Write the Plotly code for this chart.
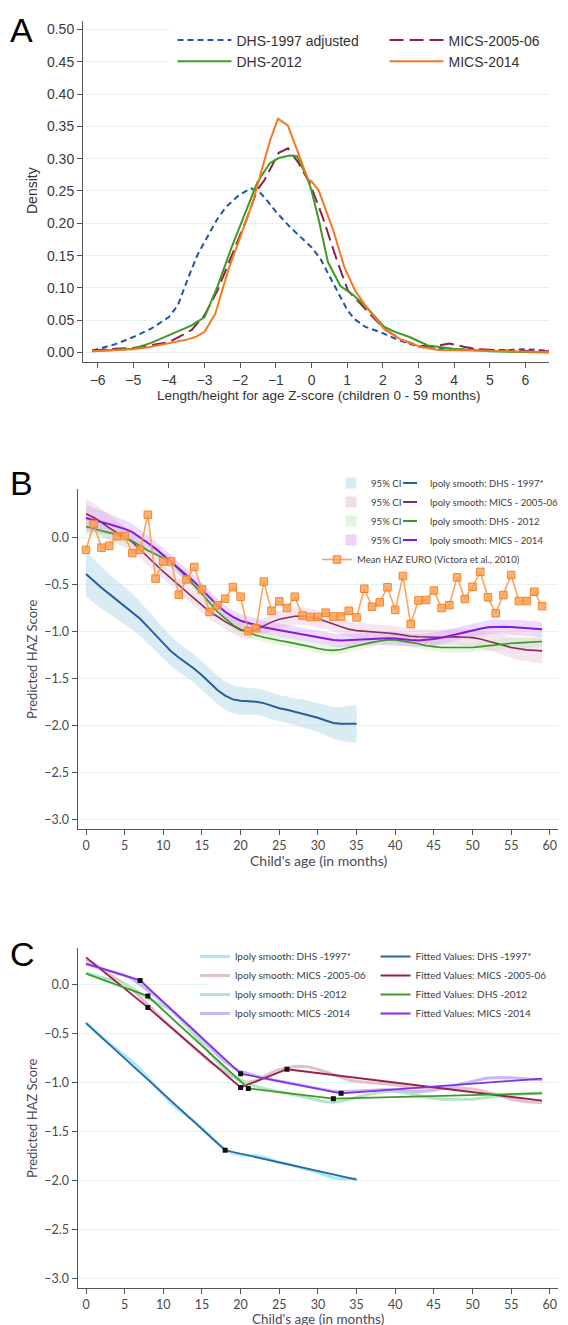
import plotly.graph_objects as go

# The page body adds an 8 px margin; the figure is made a bit wider than the
# window so that legends near the right edge are not pushed back inside.
W, H = 620, 1325
OFF = 8

# ---------------- Panel A : density of HAZ ----------------
A_DHS1997_X = [-6.15, -5.5, -5.0, -4.5, -4.0, -3.75, -3.45, -3.2, -2.95, -2.65, -2.4, -2.05, -1.7, -1.45,
               -1.2, -1.0, -0.6, -0.3, 0.0, 0.25, 0.5, 0.8, 1.0, 1.2, 1.5, 2.0, 2.5, 3.0, 3.5, 4.0, 4.5,
               5.0, 5.5, 6.0, 6.66]
A_DHS1997_Y = [0.003, 0.013, 0.024, 0.037, 0.055, 0.073, 0.117, 0.151, 0.176, 0.206, 0.225, 0.243, 0.254,
               0.248, 0.232, 0.218, 0.194, 0.178, 0.163, 0.145, 0.118, 0.086, 0.066, 0.052, 0.040, 0.030,
               0.018, 0.009, 0.006, 0.005, 0.004, 0.004, 0.004, 0.005, 0.003]

A_MICS2005_X = [-6.15, -5.5, -5.0, -4.0, -3.36, -3.0, -2.64, -2.24, -1.83, -1.53, -1.32, -0.92, -0.66,
                -0.36, -0.05, 0.31, 0.71, 1.02, 1.42, 2.03, 2.54, 3.05, 3.46, 3.87, 4.27, 4.68, 5.49, 6.66]
A_MICS2005_Y = [0.003, 0.006, 0.007, 0.016, 0.035, 0.058, 0.096, 0.150, 0.205, 0.251, 0.267, 0.309, 0.316,
                0.293, 0.262, 0.210, 0.143, 0.096, 0.073, 0.037, 0.019, 0.010, 0.010, 0.014, 0.009, 0.005,
                0.003, 0.002]

A_DHS2012_X = [-6.15, -5.5, -5.0, -4.5, -4.0, -3.56, -3.36, -3.0, -2.64, -2.24, -1.83, -1.53, -1.42, -1.17,
               -0.92, -0.61, -0.41, -0.1, 0.0, 0.2, 0.46, 0.81, 1.17, 1.53, 2.03, 2.34, 2.75, 3.26, 3.97,
               5.0, 6.66]
A_DHS2012_Y = [0.002, 0.004, 0.006, 0.015, 0.027, 0.037, 0.042, 0.055, 0.102, 0.163, 0.220, 0.262, 0.272,
               0.293, 0.301, 0.305, 0.304, 0.268, 0.250, 0.206, 0.140, 0.103, 0.089, 0.071, 0.040, 0.032,
               0.024, 0.011, 0.006, 0.002, 0.000]

A_MICS2014_X = [-6.15, -5.0, -4.5, -4.0, -3.5, -3.26, -3.0, -2.7, -2.34, -2.03, -1.63, -1.42, -1.17, -0.94,
                -0.66, -0.41, -0.1, 0.0, 0.2, 0.61, 0.92, 1.22, 1.53, 2.03, 2.54, 3.05, 3.56, 4.5, 5.5, 6.66]
A_MICS2014_Y = [0.002, 0.005, 0.009, 0.014, 0.020, 0.024, 0.032, 0.060, 0.127, 0.174, 0.236, 0.278, 0.327,
                0.362, 0.351, 0.314, 0.268, 0.265, 0.251, 0.189, 0.132, 0.096, 0.071, 0.037, 0.019, 0.009,
                0.004, 0.003, 0.002, 0.001]

A_XTICKS = [-6, -5, -4, -3, -2, -1, 0, 1, 2, 3, 4, 5, 6]
A_YTICKS = [0.00, 0.05, 0.10, 0.15, 0.20, 0.25, 0.30, 0.35, 0.40, 0.45, 0.50]

# ---------------- Panel B : lpoly smooths by age ----------------
AGE_1997 = list(range(0, 36))
AGE_ALL = list(range(0, 60))

LP_DHS1997 = [-0.39, -0.465, -0.535, -0.60, -0.665, -0.725, -0.79, -0.865, -0.95, -1.04, -1.13, -1.21,
              -1.275, -1.335, -1.395, -1.465, -1.545, -1.62, -1.68, -1.72, -1.735, -1.74, -1.745, -1.76,
              -1.79, -1.815, -1.83, -1.85, -1.87, -1.89, -1.915, -1.945, -1.97, -1.98, -1.98, -1.98]
LP_MICS2005 = [0.25, 0.21, 0.16, 0.10, 0.05, 0.005, -0.05, -0.13, -0.21, -0.29, -0.365, -0.435, -0.505,
               -0.575, -0.645, -0.72, -0.79, -0.84, -0.895, -0.94, -0.985, -1.0, -0.98, -0.94, -0.90, -0.87,
               -0.85, -0.838, -0.835, -0.845, -0.865, -0.89, -0.92, -0.95, -0.975, -0.99, -0.995, -1.0,
               -1.005, -1.015, -1.025, -1.04, -1.05, -1.055, -1.06, -1.06, -1.06, -1.055, -1.055, -1.06,
               -1.065, -1.08, -1.10, -1.12, -1.145, -1.17, -1.185, -1.195, -1.20, -1.205]
LP_DHS2012 = [0.115, 0.09, 0.07, 0.05, 0.03, 0.0, -0.04, -0.09, -0.14, -0.18, -0.22, -0.26, -0.34, -0.42,
              -0.51, -0.60, -0.69, -0.79, -0.86, -0.93, -0.975, -1.01, -1.04, -1.06, -1.08, -1.095, -1.11,
              -1.125, -1.14, -1.16, -1.18, -1.195, -1.20, -1.19, -1.17, -1.15, -1.13, -1.115, -1.10, -1.09,
              -1.09, -1.10, -1.115, -1.13, -1.15, -1.16, -1.17, -1.17, -1.17, -1.172, -1.17, -1.16, -1.15,
              -1.14, -1.13, -1.125, -1.12, -1.115, -1.11, -1.105]
LP_MICS2014 = [0.205, 0.185, 0.16, 0.14, 0.115, 0.09, 0.055, 0.0, -0.06, -0.12, -0.19, -0.26, -0.33, -0.40,
               -0.47, -0.555, -0.64, -0.72, -0.79, -0.845, -0.885, -0.91, -0.935, -0.955, -0.97, -0.985,
               -1.0, -1.015, -1.03, -1.045, -1.06, -1.075, -1.09, -1.095, -1.09, -1.085, -1.08, -1.075,
               -1.07, -1.07, -1.075, -1.085, -1.09, -1.095, -1.09, -1.08, -1.065, -1.045, -1.025, -1.005,
               -0.985, -0.97, -0.955, -0.95, -0.95, -0.952, -0.958, -0.965, -0.97, -0.975]

# half-widths of the 95% confidence bands
CI_DHS1997 = [0.24, 0.23, 0.22, 0.21, 0.20, 0.20, 0.19, 0.18, 0.17, 0.17, 0.16, 0.16, 0.15, 0.15, 0.15,
              0.15, 0.15, 0.15, 0.15, 0.15, 0.15, 0.14, 0.14, 0.14, 0.14, 0.14, 0.14, 0.14, 0.15, 0.15,
              0.15, 0.16, 0.17, 0.18, 0.19, 0.20]
CI_MICS2005 = [0.16, 0.15, 0.14, 0.13, 0.12, 0.11, 0.10, 0.09, 0.09, 0.08, 0.08, 0.08, 0.08, 0.08, 0.08,
               0.08, 0.08, 0.08, 0.08, 0.08, 0.08, 0.08, 0.08, 0.08, 0.09, 0.09, 0.09, 0.09, 0.09, 0.09,
               0.09, 0.08, 0.08, 0.08, 0.08, 0.08, 0.08, 0.08, 0.08, 0.08, 0.08, 0.08, 0.08, 0.08, 0.08,
               0.08, 0.08, 0.08, 0.08, 0.09, 0.09, 0.09, 0.10, 0.10, 0.11, 0.11, 0.12, 0.12, 0.13, 0.13]
CI_DHS2012 = [0.09, 0.085, 0.08, 0.075, 0.07, 0.065, 0.06, 0.06, 0.055, 0.055, 0.05, 0.05, 0.05, 0.05,
              0.05, 0.05, 0.05, 0.05, 0.05, 0.05, 0.05, 0.05, 0.05, 0.05, 0.05, 0.05, 0.05, 0.05, 0.05,
              0.05, 0.05, 0.05, 0.05, 0.05, 0.05, 0.05, 0.05, 0.05, 0.05, 0.05, 0.05, 0.05, 0.05, 0.05,
              0.05, 0.05, 0.05, 0.05, 0.05, 0.05, 0.05, 0.05, 0.055, 0.055, 0.055, 0.06, 0.06, 0.06,
              0.06, 0.06]
CI_MICS2014 = [0.14, 0.13, 0.12, 0.11, 0.10, 0.095, 0.09, 0.085, 0.08, 0.075, 0.07, 0.07, 0.07, 0.07,
               0.07, 0.07, 0.07, 0.07, 0.07, 0.07, 0.07, 0.07, 0.07, 0.07, 0.07, 0.07, 0.07, 0.07, 0.07,
               0.07, 0.07, 0.07, 0.07, 0.07, 0.07, 0.07, 0.07, 0.07, 0.07, 0.07, 0.07, 0.07, 0.07, 0.07,
               0.07, 0.07, 0.07, 0.07, 0.07, 0.07, 0.07, 0.075, 0.075, 0.075, 0.075, 0.08, 0.08, 0.08,
               0.08, 0.08]

EURO_HAZ = [-0.134, 0.141, -0.11, -0.09, 0.012, 0.014, -0.167, -0.132, 0.24, -0.438, -0.256, -0.256,
            -0.609, -0.447, -0.315, -0.553, -0.791, -0.721, -0.651, -0.528, -0.63, -0.995, -0.965, -0.47,
            -0.78, -0.68, -0.75, -0.63, -0.83, -0.845, -0.845, -0.80, -0.84, -0.84, -0.78, -0.85, -0.546,
            -0.736, -0.69, -0.53, -0.77, -0.41, -0.92, -0.67, -0.665, -0.565, -0.75, -0.72, -0.425,
            -0.655, -0.525, -0.366, -0.637, -0.806, -0.613, -0.40, -0.676, -0.676, -0.577, -0.73]

BC_XTICKS = [0, 5, 10, 15, 20, 25, 30, 35, 40, 45, 50, 55, 60]
BC_YTICKS = [0.0, -0.5, -1.0, -1.5, -2.0, -2.5, -3.0]

# ---------------- Panel C : piecewise fitted values ----------------
FIT_DHS1997_X = [0, 18, 35]
FIT_DHS1997_Y = [-0.395, -1.69, -1.99]
FIT_MICS2005_X = [0, 8, 20, 26, 59]
FIT_MICS2005_Y = [0.275, -0.235, -1.05, -0.865, -1.185]
FIT_DHS2012_X = [0, 8, 21, 32, 59]
FIT_DHS2012_Y = [0.11, -0.12, -1.06, -1.165, -1.11]
FIT_MICS2014_X = [0, 7, 20, 33, 59]
FIT_MICS2014_Y = [0.21, 0.04, -0.91, -1.11, -0.96]


# ---------------- geometry (page pixels -> paper fractions) ----------------
def fx(p):
    return (p - OFF) / W


def fy(p):
    return 1 - (p - OFF) / H


A_BOX = (83, 549, 21, 362)      # left, right, top, bottom (page px)
B_BOX = (77.5, 558, 489.3, 828.7)
C_BOX = (77.5, 558, 948.3, 1288.3)

FONT_A = "Liberation Sans, Arial, sans-serif"
FONT_BC = "Lato, Open Sans, sans-serif"
GRID = "#e4f2f2"
AXC = "#555555"

fig = go.Figure()

# ---- Panel A traces ----
A_SERIES = [
    ("DHS-1997 adjusted", A_DHS1997_X, A_DHS1997_Y, "#1d56a8", "6px,4px", "legend"),
    ("MICS-2005-06", A_MICS2005_X, A_MICS2005_Y, "#8e1f4f", "14px,6px", "legend2"),
    ("DHS-2012", A_DHS2012_X, A_DHS2012_Y, "#3f9a26", "solid", "legend"),
    ("MICS-2014", A_MICS2014_X, A_MICS2014_Y, "#f37a1f", "solid", "legend2"),
]
for name, xs, ys, col, dash, lg in A_SERIES:
    fig.add_trace(go.Scatter(x=xs, y=ys, mode="lines", name=name, legend=lg,
                             line=dict(color=col, width=2, dash=dash),
                             xaxis="x", yaxis="y"))

# ---- Panel B traces ----
B_SERIES = [
    ("DHS - 1997*", AGE_1997, LP_DHS1997, CI_DHS1997, "#2a5e98", "rgba(170,212,228,0.45)", "#d9ebf2", 2.0),
    ("MICS - 2005-06", AGE_ALL, LP_MICS2005, CI_MICS2005, "#8a2c5c", "rgba(225,175,210,0.32)", "#f1dcea", 1.6),
    ("DHS - 2012", AGE_ALL, LP_DHS2012, CI_DHS2012, "#3f9426", "rgba(190,232,170,0.35)", "#e5f4dc", 1.6),
    ("MICS - 2014", AGE_ALL, LP_MICS2014, CI_MICS2014, "#8518e0", "rgba(205,150,245,0.35)", "#edd3fb", 2.0),
]
for name, xs, ys, ci, lcol, fcol, swatch, lw in B_SERIES:
    lo = [v - h for v, h in zip(ys, ci)]
    hi = [v + h for v, h in zip(ys, ci)]
    fig.add_trace(go.Scatter(x=xs + xs[::-1], y=hi + lo[::-1], mode="lines", fill="toself",
                             fillcolor=fcol, line=dict(width=0), showlegend=False,
                             hoverinfo="skip", xaxis="x2", yaxis="y2"))
for name, xs, ys, ci, lcol, fcol, swatch, lw in B_SERIES:
    fig.add_trace(go.Scatter(x=xs, y=ys, mode="lines", line=dict(color=lcol, width=lw),
                             showlegend=False, name="lpoly smooth: " + name,
                             xaxis="x2", yaxis="y2"))
# legend entries for panel B (short swatches like the original)
for name, xs, ys, ci, lcol, fcol, swatch, lw in B_SERIES:
    fig.add_trace(go.Scatter(x=[None], y=[None], mode="markers", name="95% CI", legend="legend3",
                             marker=dict(symbol="square", size=11, color=swatch, line=dict(width=0)),
                             xaxis="x2", yaxis="y2"))
for name, xs, ys, ci, lcol, fcol, swatch, lw in B_SERIES:
    fig.add_trace(go.Scatter(x=[None], y=[None], mode="markers", name="lpoly smooth: " + name,
                             legend="legend4",
                             marker=dict(symbol="line-ew", size=10, color=lcol,
                                         line=dict(width=2, color=lcol)),
                             xaxis="x2", yaxis="y2"))
fig.add_trace(go.Scatter(x=AGE_ALL, y=EURO_HAZ, mode="lines+markers",
                         name="Mean HAZ EURO (Victora et al., 2010)", legend="legend5",
                         line=dict(color="rgba(247,150,70,0.85)", width=1.6),
                         marker=dict(symbol="square", size=7.5, color="rgba(255,160,80,0.8)",
                                     line=dict(color="#f5822a", width=1)),
                         xaxis="x2", yaxis="y2"))

# ---- Panel C traces ----
C_LPOLY = [
    ("lpoly smooth: DHS -1997*", AGE_1997, LP_DHS1997, "#a3ebf9"),
    ("lpoly smooth: MICS -2005-06", AGE_ALL, LP_MICS2005, "#dfc3cc"),
    ("lpoly smooth: DHS -2012", AGE_ALL, LP_DHS2012, "#b3e5c6"),
    ("lpoly smooth: MICS -2014", AGE_ALL, LP_MICS2014, "#c3bcf5"),
]
for name, xs, ys, col in C_LPOLY:
    fig.add_trace(go.Scatter(x=xs, y=ys, mode="lines", name=name, legend="legend6",
                             line=dict(color=col, width=3), xaxis="x3", yaxis="y3"))
C_FIT = [
    ("Fitted Values: DHS -1997*", FIT_DHS1997_X, FIT_DHS1997_Y, "#2d64a0"),
    ("Fitted Values: MICS -2005-06", FIT_MICS2005_X, FIT_MICS2005_Y, "#9c1f47"),
    ("Fitted Values: DHS -2012", FIT_DHS2012_X, FIT_DHS2012_Y, "#3f9b2a"),
    ("Fitted Values: MICS -2014", FIT_MICS2014_X, FIT_MICS2014_Y, "#8a2be6"),
]
for name, xs, ys, col in C_FIT:
    fig.add_trace(go.Scatter(x=xs, y=ys, mode="lines", name=name, legend="legend7",
                             line=dict(color=col, width=1.8), xaxis="x3", yaxis="y3"))
for name, xs, ys, col in C_FIT:
    fig.add_trace(go.Scatter(x=xs[1:-1], y=ys[1:-1], mode="markers", showlegend=False,
                             marker=dict(symbol="square", size=5, color="#111111"),
                             xaxis="x3", yaxis="y3"))


# ---------------- axes ----------------
def xax(box, rng, ticks, font, anchor):
    return dict(domain=[fx(box[0]), fx(box[1])], range=rng, tickvals=ticks, anchor=anchor,
                showgrid=False, zeroline=False, showline=True, linecolor=AXC, linewidth=1,
                ticks="outside", ticklen=5, tickcolor=AXC, tickfont=font, fixedrange=True)


def yax(box, rng, ticks, font, anchor, fmt):
    return dict(domain=[fy(box[3]), fy(box[2])], range=rng, tickvals=ticks, anchor=anchor,
                tickformat=fmt, showgrid=True, gridcolor=GRID, gridwidth=1, zeroline=False,
                showline=True, linecolor=AXC, linewidth=1, ticks="outside", ticklen=5,
                tickcolor=AXC, tickfont=font, fixedrange=True)


tfA = dict(family=FONT_A, size=14, color="#3a3a3a")
tfB = dict(family=FONT_BC, size=12.5, color="#4a4a4a")

legA = dict(family=FONT_A, size=14, color="#333333")
legB = dict(family=FONT_BC, size=9.6, color="#404040")
legC = dict(family=FONT_BC, size=10, color="#404040")


def leg(x, ytop, font, itemwidth=30):
    return dict(x=fx(x), y=fy(ytop), xanchor="left", yanchor="top", bgcolor="rgba(0,0,0,0)",
                font=font, itemwidth=itemwidth, tracegroupgap=0, borderwidth=0,
                orientation="v")


def annot(text, x, y, size, family, color="#333333", angle=0, xanchor="center", yanchor="middle"):
    return dict(text=text, x=fx(x), y=fy(y), xref="paper", yref="paper", showarrow=False,
                textangle=angle, xanchor=xanchor, yanchor=yanchor,
                font=dict(family=family, size=size, color=color))


fig.update_layout(
    width=W, height=H, template="none",
    paper_bgcolor="white", plot_bgcolor="white",
    margin=dict(l=0, r=0, t=0, b=0),
    xaxis=xax(A_BOX, [-6.41, 6.66], A_XTICKS, tfA, "y"),
    yaxis=yax(A_BOX, [-0.0146, 0.513], A_YTICKS, tfA, "x", ".2f"),
    xaxis2=xax(B_BOX, [-1.1, 61.06], BC_XTICKS, tfB, "y2"),
    yaxis2=yax(B_BOX, [-3.093, 0.51], BC_YTICKS, tfB, "x2", ".1f"),
    xaxis3=xax(C_BOX, [-1.1, 61.06], BC_XTICKS, tfB, "y3"),
    yaxis3=yax(C_BOX, [-3.096, 0.367], BC_YTICKS, tfB, "x3", ".1f"),
    legend=leg(172.5, 24.5, legA, 54),
    legend2=leg(384.5, 24.5, legA, 54),
    legend3=leg(331, 468.5, legB),
    legend4=leg(390, 468.5, legB),
    legend5=leg(317, 545, legB),
    legend6=leg(195, 942, legC),
    legend7=leg(375.5, 942, legC),
    shapes=[
        dict(type="rect", xref="x", yref="y", x0=-3.97, x1=6.66, y0=0.434, y1=0.513,
             fillcolor="white", line=dict(width=0), layer="between"),
        dict(type="rect", xref="x2", yref="y2", x0=14.9, x1=61.06, y0=-0.37, y1=0.51,
             fillcolor="white", line=dict(width=0), layer="between"),
        dict(type="rect", xref="x3", yref="y3", x0=15.8, x1=61.06, y0=-0.36, y1=0.367,
             fillcolor="white", line=dict(width=0), layer="between"),
    ],
    annotations=[
        annot("A", OFF, OFF + 0.5, 34, FONT_A, "#000000", xanchor="left", yanchor="top"),
        annot("B", OFF, 483, 34, FONT_A, "#000000", xanchor="left"),
        annot("C", OFF, 954, 34, FONT_A, "#000000", xanchor="left"),
        annot("Density", 32, 191, 14, FONT_A, "#333333", angle=-90),
        annot("Length/height for age Z-score (children 0 - 59 months)", 318, 395, 13.5, FONT_A),
        annot("Predicted HAZ Score", 32, 659, 13, FONT_BC, "#4a4a5a", angle=-90),
        annot("Child's age (in months)", 318, 860, 14, FONT_BC, "#4a4a5a"),
        annot("Predicted HAZ Score", 32, 1118, 13, FONT_BC, "#4a4a5a", angle=-90),
        annot("Child's age (in months)", 318, 1318.5, 13.5, FONT_BC, "#4a4a5a"),
    ],
)

fig.write_html("out.html")
